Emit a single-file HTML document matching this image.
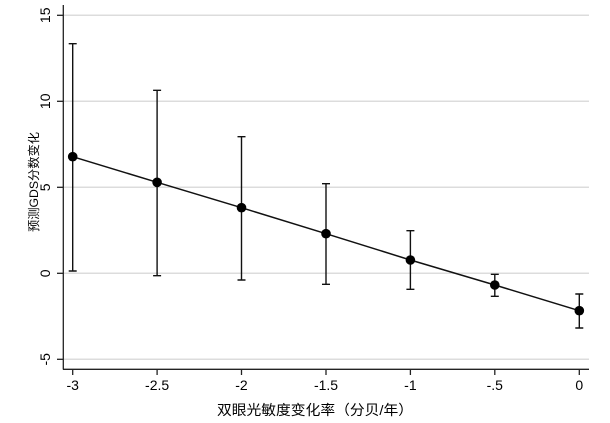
<!DOCTYPE html>
<html><head><meta charset="utf-8"><style>
html,body{margin:0;padding:0;background:#fff;}
svg{display:block;}
text{font-family:"Liberation Sans","Noto Sans CJK SC",sans-serif;fill:#000;}
</style></head><body>
<svg width="610" height="423" viewBox="0 0 610 423" xmlns="http://www.w3.org/2000/svg">
<rect width="610" height="423" fill="#fff"/>
<!-- gridlines -->
<g stroke="#dcdcdc" stroke-width="1.5">
<line x1="63" y1="15.3" x2="589" y2="15.3"/>
<line x1="63" y1="101.3" x2="589" y2="101.3"/>
<line x1="63" y1="187.3" x2="589" y2="187.3"/>
<line x1="63" y1="273.3" x2="589" y2="273.3"/>
<line x1="63" y1="359.3" x2="589" y2="359.3"/>
</g>
<!-- axes -->
<g stroke="#222" stroke-width="1.3">
<line x1="63.3" y1="5" x2="63.3" y2="369.5"/>
<line x1="63" y1="369.3" x2="589" y2="369.3"/>
<line x1="57" y1="15.3" x2="63" y2="15.3"/>
<line x1="57" y1="101.3" x2="63" y2="101.3"/>
<line x1="57" y1="187.3" x2="63" y2="187.3"/>
<line x1="57" y1="273.3" x2="63" y2="273.3"/>
<line x1="57" y1="359.3" x2="63" y2="359.3"/>
<line x1="72.7" y1="369" x2="72.7" y2="375"/>
<line x1="157.1" y1="369" x2="157.1" y2="375"/>
<line x1="241.5" y1="369" x2="241.5" y2="375"/>
<line x1="326" y1="369" x2="326" y2="375"/>
<line x1="410.4" y1="369" x2="410.4" y2="375"/>
<line x1="494.8" y1="369" x2="494.8" y2="375"/>
<line x1="579.3" y1="369" x2="579.3" y2="375"/>
</g>
<!-- y tick labels -->
<g font-size="14" text-anchor="middle" dominant-baseline="central">
<text transform="translate(45,15.3) rotate(-90)">15</text>
<text transform="translate(45,101.3) rotate(-90)">10</text>
<text transform="translate(45,187.3) rotate(-90)">5</text>
<text transform="translate(45,273.3) rotate(-90)">0</text>
<text transform="translate(45,359.3) rotate(-90)">-5</text>
</g>
<!-- x tick labels -->
<g font-size="14" text-anchor="middle">
<text x="72.7" y="390">-3</text>
<text x="157.1" y="390">-2.5</text>
<text x="241.5" y="390">-2</text>
<text x="326" y="390">-1.5</text>
<text x="410.4" y="390">-1</text>
<text x="494.8" y="390">-.5</text>
<text x="579.3" y="390">0</text>
</g>
<!-- axis titles -->
<text x="217" y="415" font-size="14" textLength="196" lengthAdjust="spacingAndGlyphs">双眼光敏度变化率（分贝/年）</text>
<text transform="translate(34,182) rotate(-90)" font-size="12" text-anchor="middle" dominant-baseline="central" textLength="100" lengthAdjust="spacingAndGlyphs">预测GDS分数变化</text>
<!-- error bars -->
<g stroke="#111" stroke-width="1.4" fill="none">
<path d="M72.7 43.7V271M68.7 43.7H76.7M68.7 271H76.7"/>
<path d="M157.1 90.3V275.7M153.1 90.3H161.1M153.1 275.7H161.1"/>
<path d="M241.5 136.7V280M237.5 136.7H245.5M237.5 280H245.5"/>
<path d="M326 183.7V284.3M322 183.7H330M322 284.3H330"/>
<path d="M410.4 230.7V289.3M406.4 230.7H414.4M406.4 289.3H414.4"/>
<path d="M494.8 274.3V296.3M490.8 274.3H498.8M490.8 296.3H498.8"/>
<path d="M579.3 294V328M575.3 294H583.3M575.3 328H583.3"/>
</g>
<!-- line -->
<polyline points="72.7,156.7 157.1,182.3 241.5,207.7 326,233.7 410.4,260 494.8,285 579.3,310.7" fill="none" stroke="#111" stroke-width="1.5"/>
<!-- markers -->
<g fill="#000">
<circle cx="72.7" cy="156.7" r="4.8"/>
<circle cx="157.1" cy="182.3" r="4.8"/>
<circle cx="241.5" cy="207.7" r="4.8"/>
<circle cx="326" cy="233.7" r="4.8"/>
<circle cx="410.4" cy="260" r="4.8"/>
<circle cx="494.8" cy="285" r="4.8"/>
<circle cx="579.3" cy="310.7" r="4.8"/>
</g>
</svg>
</body></html>
